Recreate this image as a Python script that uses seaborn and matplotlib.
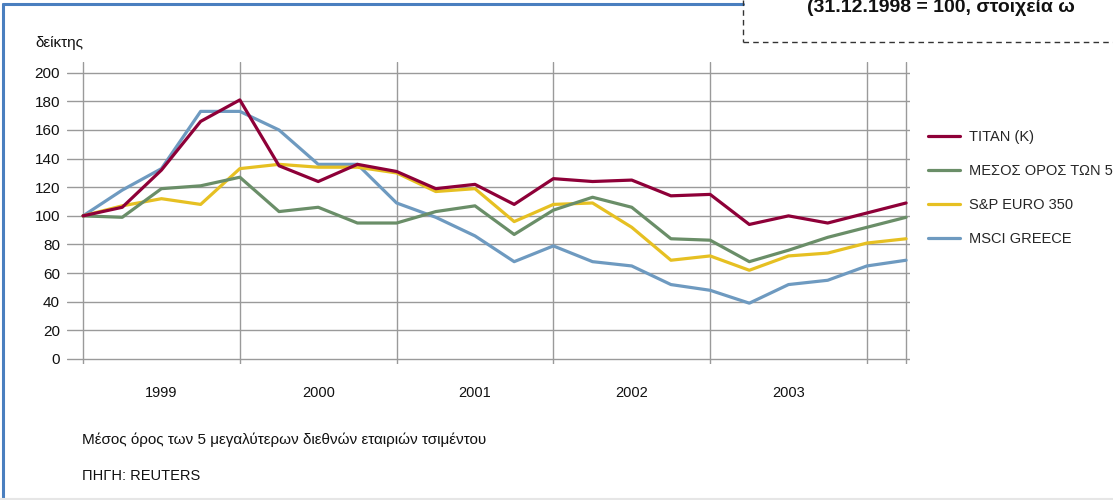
import matplotlib
matplotlib.use("Agg")
import matplotlib.pyplot as plt
import seaborn as sns
import pandas as pd
from matplotlib.lines import Line2D

# --- dati (trimestrali, 31.12.1998 = 100) ---
quarters = list(range(22))          # 31.12.1998 ... 31.03.2004
years = ["1999", "2000", "2001", "2002", "2003"]

titan = [100, 106, 132, 166, 181, 135, 124, 136, 131, 119, 122, 108,
         126, 124, 125, 114, 115, 94, 100, 95, 102, 109]
mesos = [100, 99, 119, 121, 127, 103, 106, 95, 95, 103, 107, 87,
         104, 113, 106, 84, 83, 68, 76, 85, 92, 99]
sp350 = [100, 107, 112, 108, 133, 136, 134, 134, 130, 117, 119, 96,
         108, 109, 92, 69, 72, 62, 72, 74, 81, 84]
msci = [100, 118, 133, 173, 173, 160, 136, 136, 109, 99, 86, 68,
        79, 68, 65, 52, 48, 39, 52, 55, 65, 69]

labels = ["TITAN (K)", "ΜΕΣΟΣ ΟΡΟΣ ΤΩΝ 5", "S&P EURO 350", "MSCI GREECE"]
colors = ["#8E0038", "#6A8E68", "#E6C022", "#6E9AC0"]
series = [titan, mesos, sp350, msci]

sns.set_theme(style="white")
plt.rcParams['font.family'] = ['Liberation Sans', 'DejaVu Sans']

W, H = 1113, 500
fig = plt.figure(figsize=(W / 100, H / 100), dpi=100)
ax = fig.add_axes([67 / W, 1 - 364 / H, (910 - 67) / W, (364 - 62) / H])

# disegna dal basso verso l'alto (TITAN sopra)
for lab, col, vals in reversed(list(zip(labels, colors, series))):
    df = pd.DataFrame({"q": quarters, "v": vals})
    sns.lineplot(data=df, x="q", y="v", color=col, lw=2.3, ax=ax, legend=False)

ax.set_xlim(-0.41, 21.1)
ax.set_ylim(-3.5, 207.5)
ax.set_yticks(range(0, 201, 20))
ax.set_xticks([0, 4, 8, 12, 16, 20, 21])
ax.set_xticklabels([])
ax.set_xticks([2, 6, 10, 14, 18], minor=True)
ax.set_xticklabels(years, minor=True)
ax.tick_params(axis='x', which='both', length=0, pad=16, labelsize=10.5, colors='#111111')
ax.tick_params(axis='y', length=0, pad=5, labelsize=11, colors='#111111')
ax.grid(True, which='major', color='#9a9a9a', lw=1)
ax.set_axisbelow(True)
for s in ax.spines.values():
    s.set_visible(False)
ax.set_xlabel("")
ax.set_ylabel("")

# --- testi ---
fig.text(35 / W, 1 - 43 / H, "δείκτης", fontsize=11, va='center', ha='left', color='#111111')
fig.text(82 / W, 1 - 440 / H, "Μέσος όρος των 5 μεγαλύτερων διεθνών εταιριών τσιμέντου",
         fontsize=11, va='center', ha='left', color='#111111')
fig.text(82 / W, 1 - 476 / H, "ΠΗΓΗ: REUTERS", fontsize=10.5, va='center', ha='left', color='#111111')
fig.text(807 / W, 1 - 7 / H, "(31.12.1998 = 100, στοιχεία ω", fontsize=14,
         fontweight='bold', va='center', ha='left', color='#111111')

# --- legenda ---
handles = [Line2D([], [], color=c, lw=2.3) for c in colors]
fig.legend(handles, labels, loc='upper left', bbox_to_anchor=(922 / W, 1 - 124 / H),
           frameon=False, fontsize=10.5, handlelength=2.2, labelspacing=1.38,
           handletextpad=0.6, borderaxespad=0)

# --- cornici ---
fig.add_artist(Line2D([3 / W, 3 / W], [0, 1 - 4 / H], color='#4a7fbf', lw=2.2))
fig.add_artist(Line2D([3 / W, 743 / W], [1 - 4 / H, 1 - 4 / H], color='#4a7fbf', lw=2.2))
fig.add_artist(Line2D([743 / W, 743 / W], [1, 1 - 42 / H], color='#333333', lw=1, ls=(0, (4, 3))))
fig.add_artist(Line2D([743 / W, 1], [1 - 42 / H, 1 - 42 / H], color='#333333', lw=1, ls=(0, (4, 3))))
fig.add_artist(Line2D([0, 1], [1 / H, 1 / H], color='#e6e6e6', lw=1.5))

fig.savefig("out.png", dpi=100)
